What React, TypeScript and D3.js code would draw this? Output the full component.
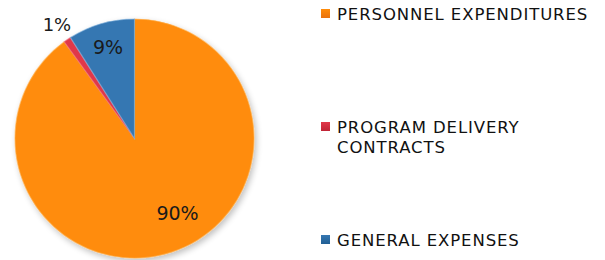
import React from "react";
import * as d3 from "d3";

// chart data
const categories = ["PERSONNEL EXPENDITURES", "PROGRAM DELIVERY CONTRACTS", "GENERAL EXPENSES"];
const values = [90, 1, 9];
const legendLines = [["PERSONNEL EXPENDITURES"], ["PROGRAM DELIVERY", "CONTRACTS"], ["GENERAL EXPENSES"]];

const colors = [
  { light: "#ff8c0a", dark: "#e9720e", rim: "#ffb050" },
  { light: "#e0384a", dark: "#c02436", rim: "#f07080" },
  { light: "#3677b2", dark: "#215f94", rim: "#7fb0dc" },
];

// label placement: radius from centre and angle shift (deg)
const labelLayout = [
  { r: 86, shift: -12, size: 19 },
  { r: 138, shift: 0, size: 18 },
  { r: 95, shift: 0, size: 19 },
];

const legendBaselines = [20, 133, 246];

const App = () => {
  const width = 605;
  const height = 260;
  const cx = 134.5;
  const cy = 138.5;
  const radius = 119.5;

  const pie = d3.pie<number>().sort(null).value((d) => d);
  const arcs = pie(values);
  const arc = d3.arc<d3.PieArcDatum<number>>().innerRadius(0).outerRadius(radius);
  const total = d3.sum(values);

  return (
    <svg
      width={width}
      height={height}
      style={{ position: "absolute", left: 0, top: 0, fontFamily: "'DejaVu Sans', Verdana, sans-serif" }}
    >
      <defs>
        {colors.map((c, i) => (
          <linearGradient key={i} id={`g${i}`} gradientUnits="userSpaceOnUse" x1={0} y1={cy - radius} x2={0} y2={cy + radius}>
            <stop offset="0%" stopColor={c.light} />
            <stop offset="55%" stopColor={c.light} />
            <stop offset="100%" stopColor={c.dark} />
          </linearGradient>
        ))}
        {colors.map((c, i) => (
          <linearGradient key={`l${i}`} id={`lg${i}`} x1="0" y1="0" x2="0" y2="1">
            <stop offset="0%" stopColor={c.light} />
            <stop offset="100%" stopColor={c.dark} />
          </linearGradient>
        ))}
        <filter id="shadow" x="-20%" y="-20%" width="140%" height="140%">
          <feGaussianBlur in="SourceAlpha" stdDeviation="3" />
          <feOffset dx="2" dy="3" result="b" />
          <feComponentTransfer>
            <feFuncA type="linear" slope="0.25" />
          </feComponentTransfer>
          <feMerge>
            <feMergeNode />
            <feMergeNode in="SourceGraphic" />
          </feMerge>
        </filter>
      </defs>
      <rect width={width} height={height} fill="#fff" />
      <g transform={`translate(${cx},${cy})`} filter="url(#shadow)">
        {arcs.map((a, i) => (
          <path key={i} d={arc(a) || ""} fill={`url(#g${i})`} stroke={colors[i].rim} strokeOpacity={0.6} strokeWidth={1.2} />
        ))}
      </g>
      <g transform={`translate(${cx},${cy})`}>
        {arcs.map((a, i) => {
          const l = labelLayout[i];
          const mid = (a.startAngle + a.endAngle) / 2 + (l.shift * Math.PI) / 180;
          const x = Math.sin(mid) * l.r;
          const y = -Math.cos(mid) * l.r;
          return (
            <text key={i} x={x} y={y} dy="0.36em" textAnchor="middle" fontSize={l.size} fill="#1a1a1a">
              {`${Math.round((a.data / total) * 100)}%`}
            </text>
          );
        })}
      </g>
      <g>
        {categories.map((c, i) => (
          <g key={c}>
            <rect x={321} y={legendBaselines[i] - 11} width={9} height={9} fill={`url(#lg${i})`} />
            <text x={337} y={legendBaselines[i]} fontSize={16.5} letterSpacing={0.9} fill="#111">
              {legendLines[i].map((line, j) => (
                <tspan key={j} x={337} dy={j === 0 ? 0 : 20}>
                  {line}
                </tspan>
              ))}
            </text>
          </g>
        ))}
      </g>
    </svg>
  );
};

export default App;
